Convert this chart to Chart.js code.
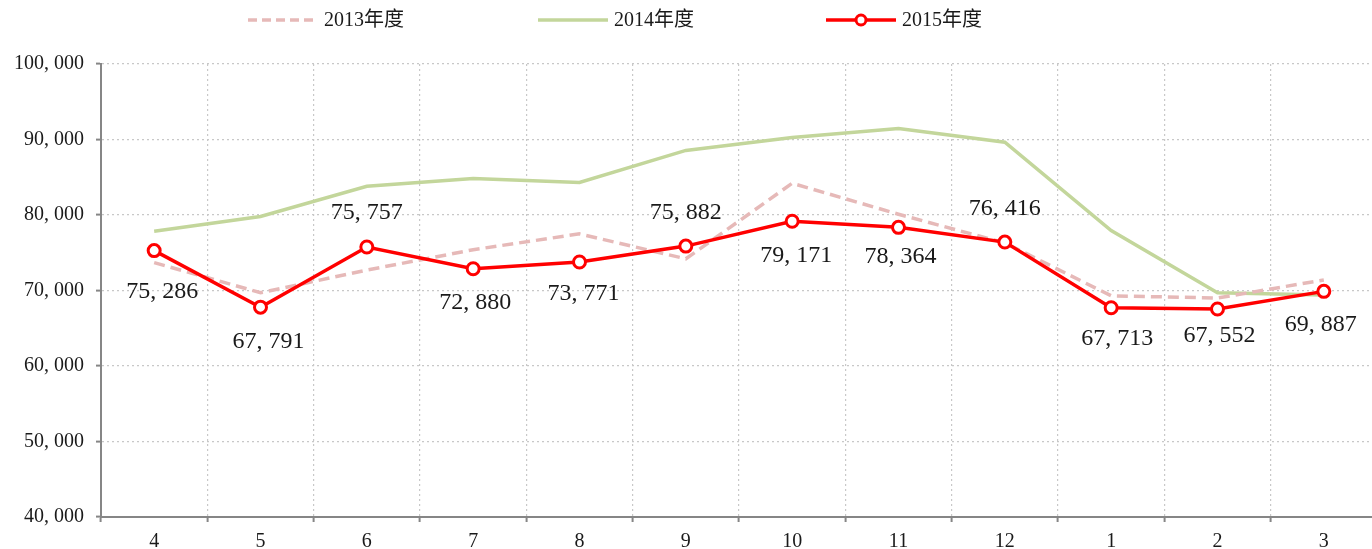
<!DOCTYPE html>
<html>
<head>
<meta charset="utf-8">
<script src="https://cdn.jsdelivr.net/npm/chart.js@4.4.1/dist/chart.umd.min.js"></script>
<style>
  html, body { margin: 0; padding: 0; background: #ffffff; overflow: hidden; }
  #wrap { width: 1386px; height: 549px; }
</style>
</head>
<body>
<div id="wrap"><canvas id="c" width="1386" height="549"></canvas></div>
<script>
const categories = ['4', '5', '6', '7', '8', '9', '10', '11', '12', '1', '2', '3'];
const seriesNames = ['2013年度', '2014年度', '2015年度'];
const fy2013 = [73700, 69700, 72700, 75400, 77500, 74200, 84200, 80100, 76300, 69300, 69000, 71400];
const fy2014 = [77850, 79800, 83800, 84850, 84300, 88550, 90250, 91450, 89650, 77950, 69700, 69400];
const fy2015 = [75286, 67791, 75757, 72880, 73771, 75882, 79171, 78364, 76416, 67713, 67552, 69887];
const yMin = 40000;
const yMax = 100000;
const yStep = 10000;

const SERIF = '"Liberation Serif", "Noto Sans CJK SC", serif';
const fmt = v => v.toLocaleString('en-US').replace(/,/g, ', ');

// label placement offsets (px) relative to each 2015 point
const labelOffsets = [[8, 41], [8, 35], [0, -34], [2, 34], [4, 32], [0, -33], [4, 34], [2, 29], [0, -33], [6, 31], [2, 27], [-3, 33]];

const dataLabelPlugin = {
  id: 'dataLabels',
  afterDatasetsDraw(chart) {
    const ctx = chart.ctx;
    const dsIndex = 2;
    const meta = chart.getDatasetMeta(dsIndex);
    const data = chart.data.datasets[dsIndex].data;
    ctx.save();
    ctx.font = '24px ' + SERIF;
    ctx.fillStyle = '#1a1a1a';
    ctx.textAlign = 'center';
    ctx.textBaseline = 'middle';
    meta.data.forEach((pt, i) => {
      const [dx, dy] = labelOffsets[i];
      ctx.fillText(fmt(data[i]), pt.x + dx, pt.y + dy);
    });
    ctx.restore();
  }
};

const legendPlugin = {
  id: 'customLegend',
  afterDraw(chart) {
    const ctx = chart.ctx;
    const starts = [248, 538, 826];
    const y = 20;
    const sampleW = 70;
    ctx.save();
    chart.data.datasets.forEach((ds, i) => {
      const x0 = starts[i];
      ctx.beginPath();
      ctx.setLineDash(ds.borderDash ? [9, 5] : []);
      ctx.strokeStyle = ds.borderColor;
      ctx.lineWidth = ds.borderWidth;
      ctx.moveTo(x0, y);
      ctx.lineTo(x0 + sampleW, y);
      ctx.stroke();
      ctx.setLineDash([]);
      if (ds.pointRadius > 0) {
        ctx.beginPath();
        ctx.arc(x0 + sampleW / 2, y, ds.pointRadius - 1, 0, Math.PI * 2);
        ctx.fillStyle = ds.pointBackgroundColor;
        ctx.fill();
        ctx.lineWidth = ds.pointBorderWidth;
        ctx.strokeStyle = ds.pointBorderColor;
        ctx.stroke();
      }
      ctx.font = '20px ' + SERIF;
      ctx.fillStyle = '#1a1a1a';
      ctx.textAlign = 'left';
      ctx.textBaseline = 'middle';
      ctx.fillText(ds.label, x0 + sampleW + 6, y + 1);
    });
    ctx.restore();
  }
};

new Chart(document.getElementById('c'), {
  type: 'line',
  data: {
    labels: categories,
    datasets: [
      {
        label: seriesNames[0],
        data: fy2013,
        borderColor: '#E6B9B8',
        borderWidth: 3.5,
        borderDash: [11, 6],
        pointRadius: 0,
        pointHoverRadius: 0,
        tension: 0,
        fill: false,
        order: 1
      },
      {
        label: seriesNames[1],
        data: fy2014,
        borderColor: '#C3D69B',
        borderWidth: 3.5,
        pointRadius: 0,
        pointHoverRadius: 0,
        tension: 0,
        fill: false,
        order: 2
      },
      {
        label: seriesNames[2],
        data: fy2015,
        borderColor: '#FF0000',
        borderWidth: 3.5,
        pointRadius: 6,
        pointHoverRadius: 6,
        pointBackgroundColor: '#FFFFFF',
        pointBorderColor: '#FF0000',
        pointBorderWidth: 3,
        tension: 0,
        fill: false,
        order: 0
      }
    ]
  },
  options: {
    responsive: false,
    animation: false,
    events: [],
    layout: { padding: { top: 64, left: 0, right: 0, bottom: 0 } },
    plugins: {
      legend: { display: false },
      tooltip: { enabled: false }
    },
    scales: {
      x: {
        offset: true,
        grid: {
          offset: true,
          color: '#C8C8C8',
          lineWidth: 1.2,
          drawTicks: true,
          tickLength: 5,
          tickColor: '#868686',
          tickWidth: 2
        },
        border: { display: true, color: '#868686', width: 2, dash: [2, 3] },
        ticks: {
          color: '#1a1a1a',
          font: { family: SERIF, size: 20 },
          padding: 8,
          maxRotation: 0
        },
        afterFit(scale) { scale.height = 32; }
      },
      y: {
        min: yMin,
        max: yMax,
        grid: {
          color: '#C8C8C8',
          lineWidth: 1.2,
          drawTicks: true,
          tickLength: 5,
          tickColor: '#868686',
          tickWidth: 2
        },
        border: { display: true, color: '#868686', width: 2, dash: [2, 3] },
        ticks: {
          stepSize: yStep,
          color: '#1a1a1a',
          font: { family: SERIF, size: 20 },
          padding: 12,
          callback: v => fmt(v)
        },
        afterFit(scale) { scale.width = 101; }
      }
    }
  },
  plugins: [dataLabelPlugin, legendPlugin]
});
</script>
</body>
</html>
